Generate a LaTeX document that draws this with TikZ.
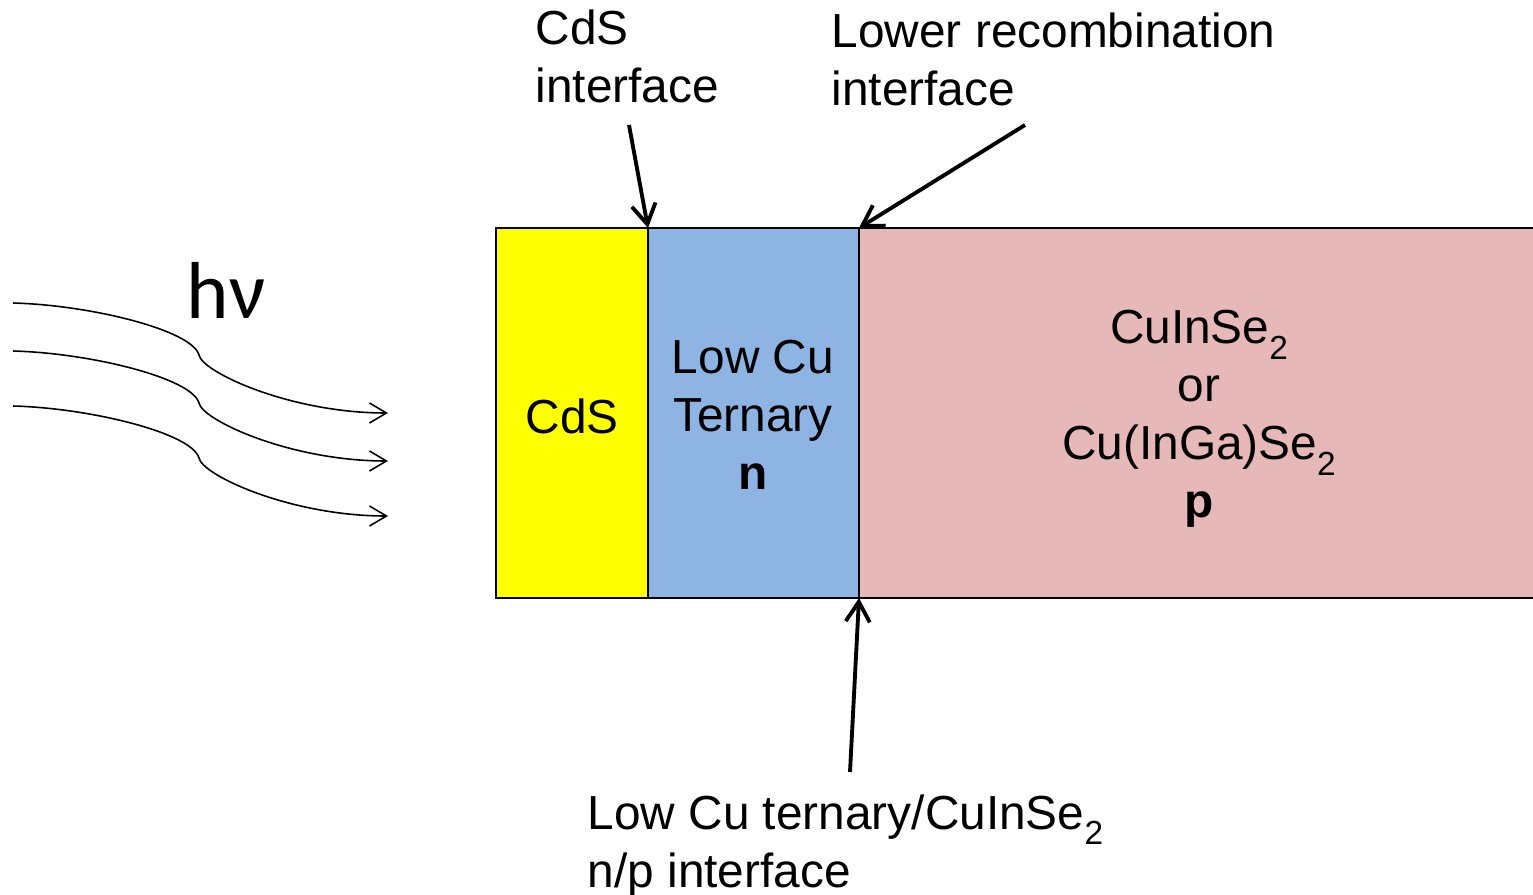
\documentclass[tikz,border=0pt]{standalone}
\usepackage{fontspec}
\setmainfont{Liberation Sans}
\newfontfamily\hvfont{Carlito}
\usetikzlibrary{arrows.meta}

\definecolor{cdsyellow}{HTML}{FFFF00}
\definecolor{ternblue}{HTML}{8EB4E3}
\definecolor{cispink}{HTML}{E6B9B8}

\newcommand{\chemsub}[1]{\raisebox{-0.32em}{\fontsize{9.5pt}{9.5pt}\selectfont #1}}

\tikzset{
  label/.style={inner sep=0pt, anchor=north west, align=left, font=\fontsize{13.6pt}{16.5pt}\selectfont},
  layertext/.style={inner sep=0pt, align=center, font=\fontsize{13.6pt}{16.5pt}\selectfont},
  pointer/.style={line width=1.1pt, -{Straight Barb[length=2mm, width=2.4mm, line width=1.1pt]}},
  wave/.style={line width=0.45pt, -{Straight Barb[length=1.7mm, width=2mm]}}
}

\begin{document}
\begin{tikzpicture}
  \useasboundingbox (0cm,0cm) rectangle (15.33cm,-8.95cm);
  % layers of the cell
  \filldraw[fill=cdsyellow, line width=0.7pt] (4.96cm,-2.28cm) rectangle (6.48cm,-5.98cm);
  \filldraw[fill=ternblue, line width=0.7pt] (6.48cm,-2.28cm) rectangle (8.59cm,-5.98cm);
  \fill[cispink] (8.59cm,-2.28cm) rectangle (15.33cm,-5.98cm);
  \draw[line width=0.7pt] (8.59cm,-2.28cm) -- (15.33cm,-2.28cm);
  \draw[line width=0.7pt] (8.59cm,-5.98cm) -- (15.33cm,-5.98cm);
  \draw[line width=0.7pt] (8.59cm,-2.28cm) -- (8.59cm,-5.98cm);
  \node[layertext] (cds) at (5.72cm,-4.16cm) {CdS};
  \node[layertext] (ternary) at (7.53cm,-4.15cm) {Low Cu\\Ternary\\\textbf{n}};
  \node[layertext] (absorber) at (11.99cm,-4.19cm) {CuInSe\chemsub{2}\\or\\Cu(InGa)Se\chemsub{2}\\\textbf{p}};
  % incoming light
  \node[inner sep=0pt, anchor=base, font=\hvfont\fontsize{23pt}{27pt}\selectfont] (hv) at (2.26cm,-3.18cm) {hν};
  \draw[wave] (0.13cm,-3.03cm) .. controls (0.9cm,-3.05cm) and (1.92cm,-3.30cm) .. (1.99cm,-3.55cm)
    .. controls (2.02cm,-3.72cm) and (2.9cm,-4.13cm) .. (3.88cm,-4.13cm);
  \draw[wave, yshift=-0.48cm] (0.13cm,-3.03cm) .. controls (0.9cm,-3.05cm) and (1.92cm,-3.30cm) .. (1.99cm,-3.55cm)
    .. controls (2.02cm,-3.72cm) and (2.9cm,-4.13cm) .. (3.88cm,-4.13cm);
  \draw[wave, yshift=-1.03cm] (0.13cm,-3.03cm) .. controls (0.9cm,-3.05cm) and (1.92cm,-3.30cm) .. (1.99cm,-3.55cm)
    .. controls (2.02cm,-3.72cm) and (2.9cm,-4.13cm) .. (3.88cm,-4.13cm);
  % interfaces
  \node[label] (cdsif) at (5.35cm,-0.09cm) {CdS\\interface};
  \node[label] (lowrec) at (8.31cm,-0.12cm) {Lower recombination\\interface};
  \node[label] (npif) at (5.87cm,-7.94cm) {Low Cu ternary/CuInSe\chemsub{2}\\n/p interface};
  \coordinate (cdsTail) at (6.29cm,-1.25cm);
  \coordinate (cdsJoin) at (6.48cm,-2.28cm);
  \coordinate (recTail) at (10.25cm,-1.25cm);
  \coordinate (recJoin) at (8.59cm,-2.28cm);
  \coordinate (npTail) at (8.50cm,-7.72cm);
  \coordinate (npJoin) at (8.59cm,-5.98cm);
  \draw[pointer] (cdsTail) -- (cdsJoin);
  \draw[pointer] (recTail) -- (recJoin);
  \draw[pointer] (npTail) -- (npJoin);
\end{tikzpicture}
\end{document}
